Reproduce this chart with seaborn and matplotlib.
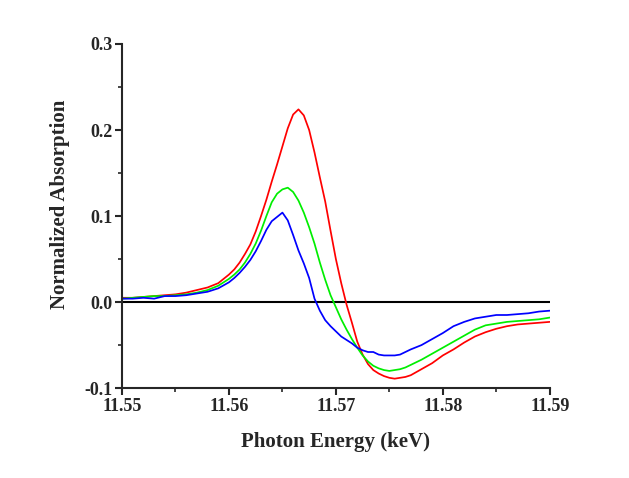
import numpy as np
import pandas as pd
import matplotlib
matplotlib.use("Agg")
import matplotlib.pyplot as plt
import seaborn as sns
from matplotlib.ticker import MultipleLocator

# --- data (keV, normalized absorption) ---
energy = [
    11.550, 11.551, 11.552, 11.553, 11.554, 11.555, 11.556, 11.557, 11.558, 11.559,
    11.560, 11.5605, 11.561, 11.5615, 11.562, 11.5625, 11.563, 11.5635, 11.564, 11.5645,
    11.565, 11.5655, 11.566, 11.5665, 11.567, 11.5675, 11.568, 11.5685, 11.569, 11.5695,
    11.570, 11.5705, 11.571, 11.5715, 11.572, 11.5725, 11.573, 11.5735, 11.574, 11.5745,
    11.575, 11.5755, 11.576, 11.5765, 11.577, 11.578, 11.579, 11.580, 11.581, 11.582,
    11.583, 11.584, 11.585, 11.586, 11.587, 11.588, 11.589, 11.590,
]

red = [
    0.005, 0.005, 0.006, 0.007, 0.008, 0.009, 0.011, 0.014, 0.017, 0.022,
    0.032, 0.038, 0.046, 0.056, 0.067, 0.082, 0.100, 0.119, 0.140, 0.160,
    0.181, 0.202, 0.218, 0.224, 0.217, 0.200, 0.174, 0.145, 0.117, 0.083,
    0.050, 0.022, -0.003, -0.024, -0.046, -0.061, -0.072, -0.079, -0.083, -0.086,
    -0.088, -0.089, -0.088, -0.087, -0.085, -0.078, -0.071, -0.062, -0.055, -0.047,
    -0.040, -0.035, -0.031, -0.028, -0.026, -0.025, -0.024, -0.023,
]

green = [
    0.004, 0.005, 0.006, 0.007, 0.007, 0.008, 0.009, 0.011, 0.014, 0.019,
    0.027, 0.032, 0.038, 0.046, 0.056, 0.068, 0.083, 0.100, 0.116, 0.126,
    0.131, 0.133, 0.128, 0.118, 0.104, 0.087, 0.068, 0.046, 0.026, 0.008,
    -0.006, -0.020, -0.032, -0.043, -0.053, -0.062, -0.069, -0.074, -0.077, -0.079,
    -0.080, -0.079, -0.078, -0.076, -0.073, -0.067, -0.060, -0.053, -0.046, -0.039,
    -0.032, -0.027, -0.025, -0.023, -0.022, -0.021, -0.020, -0.018,
]

blue = [
    0.004, 0.004, 0.005, 0.004, 0.007, 0.007, 0.008, 0.010, 0.012, 0.016,
    0.023, 0.028, 0.034, 0.041, 0.049, 0.059, 0.071, 0.084, 0.094, 0.099,
    0.104, 0.095, 0.078, 0.060, 0.045, 0.028, 0.004, -0.010, -0.021, -0.028,
    -0.034, -0.040, -0.044, -0.048, -0.053, -0.056, -0.058, -0.058, -0.061, -0.062,
    -0.062, -0.062, -0.061, -0.058, -0.055, -0.050, -0.043, -0.036, -0.028, -0.023,
    -0.019, -0.017, -0.015, -0.015, -0.014, -0.013, -0.011, -0.010,
]

series_names = ["red", "green", "blue"]
series_colors = ["#ff0000", "#00ee00", "#0000ff"]

# --- long-form table for seaborn ---
df = pd.concat([
    pd.DataFrame({"energy": energy, "absorption": red, "sample": "red"}),
    pd.DataFrame({"energy": energy, "absorption": green, "sample": "green"}),
    pd.DataFrame({"energy": energy, "absorption": blue, "sample": "blue"}),
], ignore_index=True)

sns.set_style("ticks")
plt.rcParams["font.family"] = ["Liberation Serif", "DejaVu Serif"]
plt.rcParams["font.weight"] = "bold"

fig, ax = plt.subplots(figsize=(6.29, 4.78), dpi=100)
fig.subplots_adjust(left=0.194, right=0.874, top=0.908, bottom=0.188)

ax.axhline(0, color="black", lw=1.5, zorder=1)
sns.lineplot(data=df, x="energy", y="absorption", hue="sample",
             hue_order=series_names, palette=series_colors,
             lw=1.25, legend=False, ax=ax, zorder=2)

ax.set_xlim(11.55, 11.59)
ax.set_ylim(-0.1, 0.3)
ax.xaxis.set_major_locator(MultipleLocator(0.01))
ax.xaxis.set_minor_locator(MultipleLocator(0.005))
ax.yaxis.set_major_locator(MultipleLocator(0.1))
ax.yaxis.set_minor_locator(MultipleLocator(0.05))
ax.set_xticklabels([f"{v:.2f}" for v in ax.get_xticks()])
ax.set_yticklabels([f"{v:.1f}" for v in ax.get_yticks()])

for side in ["top", "right"]:
    ax.spines[side].set_visible(False)
for side in ["left", "bottom"]:
    ax.spines[side].set_linewidth(1.5)

ax.tick_params(which="major", direction="out", length=5, width=1.5,
               labelsize=13, pad=2)
ax.tick_params(which="minor", direction="out", length=3, width=1.2)

ax.set_xlabel("Photon Energy (keV)", fontsize=15, fontweight="bold", labelpad=12)
ax.set_ylabel("Normalized Absorption", fontsize=15, fontweight="bold")
ax.yaxis.set_label_coords(-0.121, 0.535)

fig.savefig("out.png", dpi=100)
